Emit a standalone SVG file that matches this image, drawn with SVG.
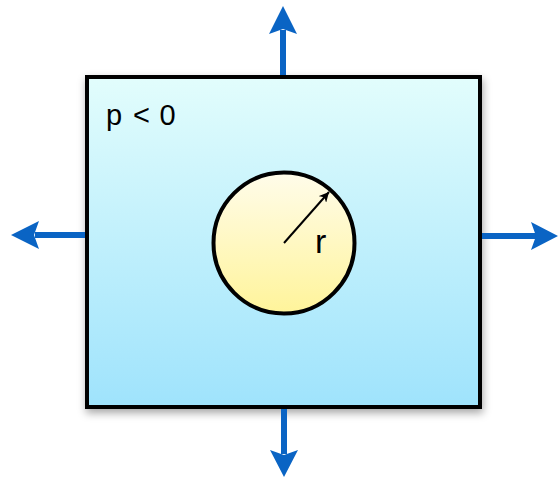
<svg xmlns="http://www.w3.org/2000/svg" width="558" height="479" viewBox="0 0 558 479">
  <style>
    .lbl { font-family: "Liberation Sans", Arial, sans-serif; fill: #000; }
    .shaft { stroke: #0a64c4; stroke-width: 6; fill: none; }
    .head { fill: #0a64c4; }
  </style>
  <defs>
    <linearGradient id="boxGrad" x1="0" y1="0" x2="0" y2="1">
      <stop offset="0" stop-color="#e2fdfc"/>
      <stop offset="1" stop-color="#9fe3fc"/>
    </linearGradient>
    <linearGradient id="circGrad" x1="0" y1="0" x2="0" y2="1">
      <stop offset="0" stop-color="#fffcea"/>
      <stop offset="1" stop-color="#fff49a"/>
    </linearGradient>
    <filter id="shadow" x="-10%" y="-10%" width="120%" height="125%">
      <feDropShadow dx="1" dy="4" stdDeviation="4" flood-color="#000" flood-opacity="0.35"/>
    </filter>
    <marker id="blackHead" markerWidth="12" markerHeight="10" refX="10" refY="5" orient="auto" markerUnits="userSpaceOnUse">
      <path d="M0,0 L10,5 L0,10 L3,5 Z" fill="#000"/>
    </marker>
  </defs>

  <g id="box">
    <rect x="87" y="77" width="393" height="330" fill="url(#boxGrad)" stroke="#000" stroke-width="4" filter="url(#shadow)"/>
    <text class="lbl" font-size="29" y="125"><tspan x="106">p</tspan><tspan x="133">&lt;</tspan><tspan x="159.5">0</tspan></text>
  </g>

  <g id="circle">
    <circle cx="284" cy="243" r="70.5" fill="url(#circGrad)" stroke="#000" stroke-width="4"/>
    <line x1="284" y1="243" x2="329" y2="192" stroke="#000" stroke-width="2" marker-end="url(#blackHead)"/>
    <text class="lbl" font-size="34" x="315" y="253">r</text>
  </g>

  <g id="connectors">
    <line class="shaft" x1="283" y1="75" x2="283" y2="30"/>
    <polygon class="head" points="283,6 297,34 283,29 269,34"/>
    <line class="shaft" x1="284" y1="409" x2="284" y2="454"/>
    <polygon class="head" points="284,477 298,450 284,455 270,450"/>
    <line class="shaft" x1="85" y1="235" x2="35" y2="235"/>
    <polygon class="head" points="11,235 39,221 34,235 39,249"/>
    <line class="shaft" x1="482" y1="236" x2="536" y2="236"/>
    <polygon class="head" points="558,236 531,222 536,236 531,250"/>
  </g>
</svg>
